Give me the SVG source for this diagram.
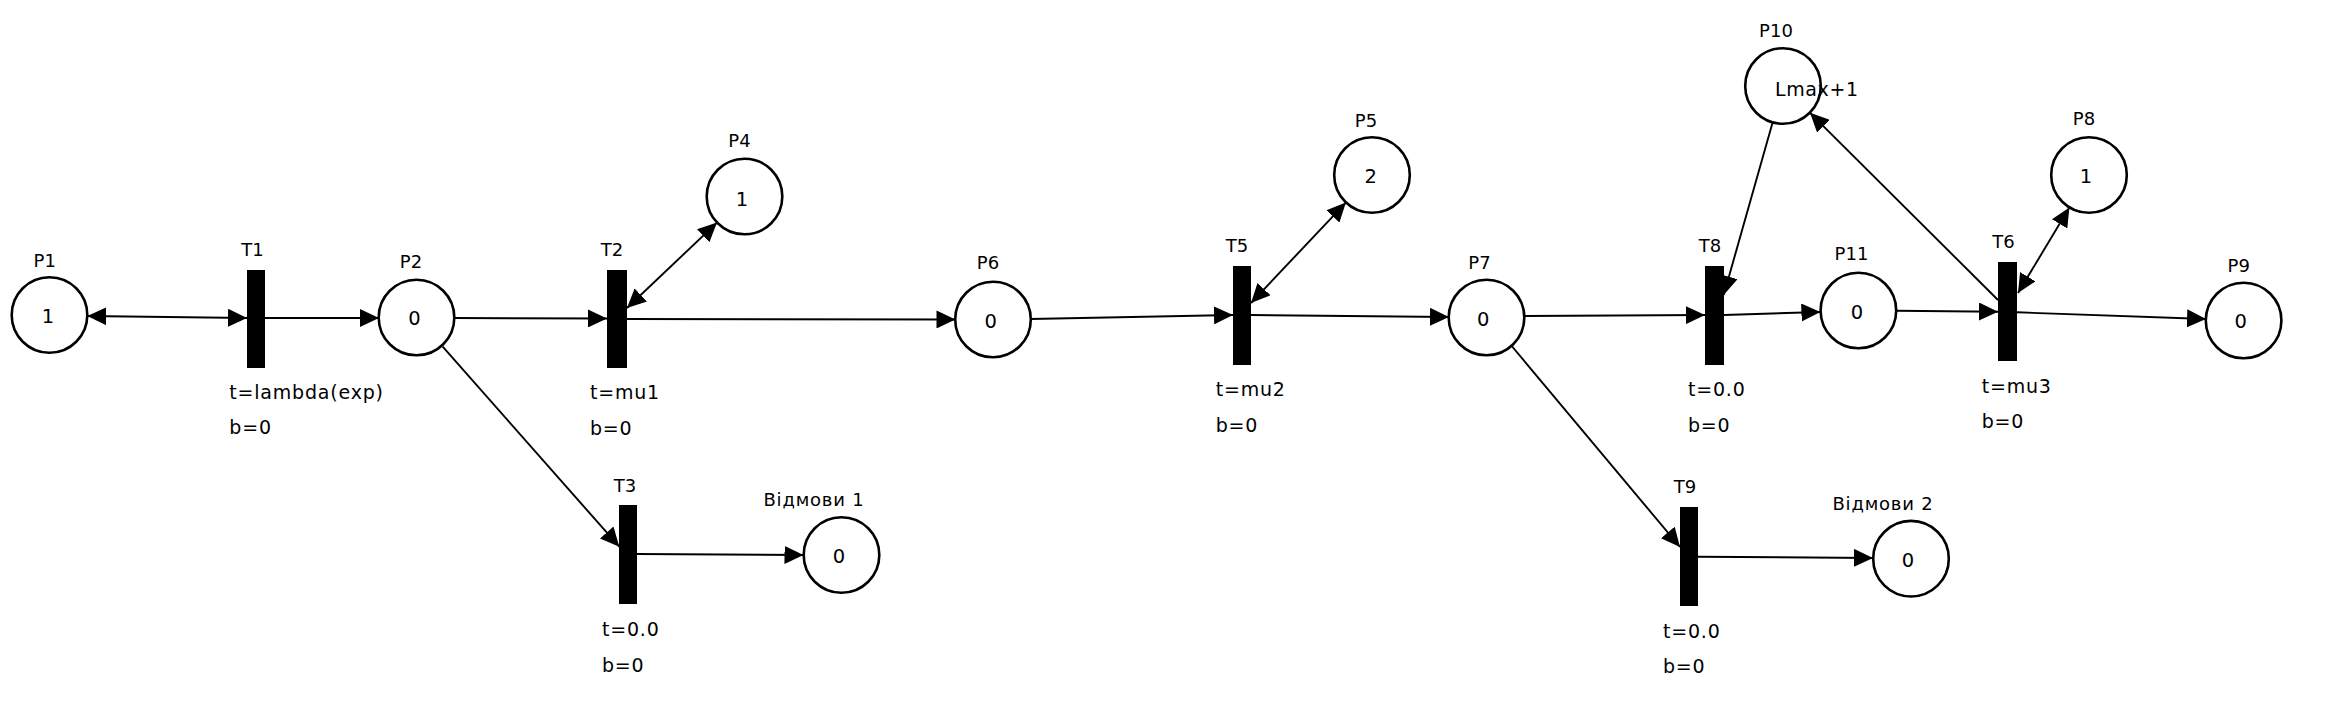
<svg xmlns="http://www.w3.org/2000/svg" width="2331" height="719" viewBox="0 0 2331 719">
<style>
.pl{fill:#fff;stroke:#000;stroke-width:2.6}
.tr{fill:#000}
.lb{font-family:"DejaVu Sans","Liberation Sans",sans-serif;font-size:18px;fill:#000}
.tk{font-family:"DejaVu Sans","Liberation Sans",sans-serif;font-size:19.5px;fill:#000;text-anchor:middle}
.c{text-anchor:middle}
.pr{font-family:"DejaVu Sans","Liberation Sans",sans-serif;font-size:19px;fill:#000;letter-spacing:0.8px}
.arc{stroke:#000;stroke-width:1.9;fill:none}
</style>
<defs>
<marker id="ah" markerUnits="userSpaceOnUse" markerWidth="20" markerHeight="18" refX="19" refY="9" orient="auto-start-reverse">
<path d="M0,0 L19,9 L0,18 z" fill="#000"/>
</marker>
</defs>
<rect width="2331" height="719" fill="#fff"/>
<g id="connectors">
<line class="arc" x1="87.3" y1="316" x2="247" y2="318" marker-start="url(#ah)" marker-end="url(#ah)"/>
<line class="arc" x1="265" y1="318" x2="379" y2="318" marker-end="url(#ah)"/>
<line class="arc" x1="454" y1="318" x2="607" y2="318.5" marker-end="url(#ah)"/>
<line class="arc" x1="627" y1="308" x2="717" y2="222.6" marker-start="url(#ah)" marker-end="url(#ah)"/>
<line class="arc" x1="627" y1="319" x2="955.5" y2="319.5" marker-end="url(#ah)"/>
<line class="arc" x1="442.7" y1="346.7" x2="619.3" y2="546.7" marker-end="url(#ah)"/>
<line class="arc" x1="637" y1="554" x2="803.5" y2="555" marker-end="url(#ah)"/>
<line class="arc" x1="1030.5" y1="319" x2="1233" y2="315" marker-end="url(#ah)"/>
<line class="arc" x1="1251" y1="303" x2="1345.9" y2="202.6" marker-start="url(#ah)" marker-end="url(#ah)"/>
<line class="arc" x1="1251" y1="315" x2="1449" y2="317" marker-end="url(#ah)"/>
<line class="arc" x1="1524" y1="316" x2="1705" y2="315" marker-end="url(#ah)"/>
<line class="arc" x1="1511.7" y1="346" x2="1680" y2="547" marker-end="url(#ah)"/>
<line class="arc" x1="1698" y1="556.7" x2="1873" y2="558" marker-end="url(#ah)"/>
<line class="arc" x1="1724" y1="315" x2="1820.4" y2="312" marker-end="url(#ah)"/>
<line class="arc" x1="1772.6" y1="122.6" x2="1723.7" y2="295" marker-end="url(#ah)"/>
<line class="arc" x1="1896.4" y1="310.7" x2="1998" y2="311.7" marker-end="url(#ah)"/>
<line class="arc" x1="1998" y1="300" x2="1810" y2="112.8" marker-end="url(#ah)"/>
<line class="arc" x1="2018" y1="293" x2="2069.4" y2="207.6" marker-start="url(#ah)" marker-end="url(#ah)"/>
<line class="arc" x1="2017" y1="312.3" x2="2206" y2="319" marker-end="url(#ah)"/>
</g>
<g id="P1"><circle class="pl" cx="49.5" cy="315" r="37.8"/><text class="lb c" x="44.7" y="266.7">P1</text><text class="tk" x="48" y="323">1</text></g>
<g id="P2"><circle class="pl" cx="416.5" cy="317.5" r="37.8"/><text class="lb c" x="411" y="268">P2</text><text class="tk" x="414.5" y="325">0</text></g>
<g id="P4"><circle class="pl" cx="744.5" cy="196.5" r="37.8"/><text class="lb c" x="739.5" y="147">P4</text><text class="tk" x="742" y="206">1</text></g>
<g id="P6"><circle class="pl" cx="993" cy="319.5" r="37.8"/><text class="lb c" x="988" y="269">P6</text><text class="tk" x="990.7" y="328">0</text></g>
<g id="P5"><circle class="pl" cx="1372" cy="175" r="37.8"/><text class="lb c" x="1366" y="126.5">P5</text><text class="tk" x="1370.7" y="183">2</text></g>
<g id="P7"><circle class="pl" cx="1486.5" cy="317.5" r="37.8"/><text class="lb c" x="1479.5" y="269">P7</text><text class="tk" x="1483.3" y="326">0</text></g>
<g id="P10"><circle class="pl" cx="1783" cy="86" r="37.8"/><text class="lb c" x="1776" y="37.3">P10</text><text class="lb" x="1775" y="96" style="font-size:19px;letter-spacing:0.6px">Lmax+1</text></g>
<g id="P11"><circle class="pl" cx="1858.4" cy="310.5" r="37.8"/><text class="lb c" x="1851.5" y="260">P11</text><text class="tk" x="1857" y="319">0</text></g>
<g id="P8"><circle class="pl" cx="2089" cy="175" r="37.8"/><text class="lb c" x="2084" y="125">P8</text><text class="tk" x="2086" y="183">1</text></g>
<g id="P9"><circle class="pl" cx="2243.6" cy="320.5" r="37.8"/><text class="lb c" x="2238.7" y="271.7">P9</text><text class="tk" x="2240.6" y="328">0</text></g>
<g id="R1"><circle class="pl" cx="841.5" cy="555" r="37.8"/><text class="lb c" x="814" y="506" style="letter-spacing:0.8px">Відмови 1</text><text class="tk" x="839" y="563">0</text></g>
<g id="R2"><circle class="pl" cx="1911" cy="558.7" r="37.8"/><text class="lb c" x="1883" y="510" style="letter-spacing:0.8px">Відмови 2</text><text class="tk" x="1908" y="566.7">0</text></g>
<g id="T1"><rect class="tr" x="247" y="270" width="18" height="98"/><text class="lb c" x="252.5" y="256">T1</text><text class="pr" x="229.3" y="399.3">t=lambda(exp)</text><text class="pr" x="229.3" y="434.3">b=0</text></g>
<g id="T2"><rect class="tr" x="607" y="270" width="20" height="98"/><text class="lb c" x="612" y="256">T2</text><text class="pr" x="590" y="399.3">t=mu1</text><text class="pr" x="590" y="435">b=0</text></g>
<g id="T3"><rect class="tr" x="619" y="505" width="18" height="99"/><text class="lb c" x="625" y="492">T3</text><text class="pr" x="602" y="636">t=0.0</text><text class="pr" x="602" y="672">b=0</text></g>
<g id="T5"><rect class="tr" x="1233" y="266" width="18" height="99"/><text class="lb c" x="1237" y="251.7">T5</text><text class="pr" x="1215.7" y="396">t=mu2</text><text class="pr" x="1215.7" y="431.7">b=0</text></g>
<g id="T8"><rect class="tr" x="1705" y="266" width="19" height="99"/><text class="lb c" x="1710" y="251.7">T8</text><text class="pr" x="1688" y="396">t=0.0</text><text class="pr" x="1688" y="431.7">b=0</text></g>
<g id="T6"><rect class="tr" x="1998" y="262" width="19" height="99"/><text class="lb c" x="2003.4" y="248.3">T6</text><text class="pr" x="1981.7" y="393.3">t=mu3</text><text class="pr" x="1981.7" y="428.3">b=0</text></g>
<g id="T9"><rect class="tr" x="1680" y="507" width="18" height="99"/><text class="lb c" x="1685" y="493">T9</text><text class="pr" x="1663" y="637.7">t=0.0</text><text class="pr" x="1663" y="673">b=0</text></g>
</svg>
